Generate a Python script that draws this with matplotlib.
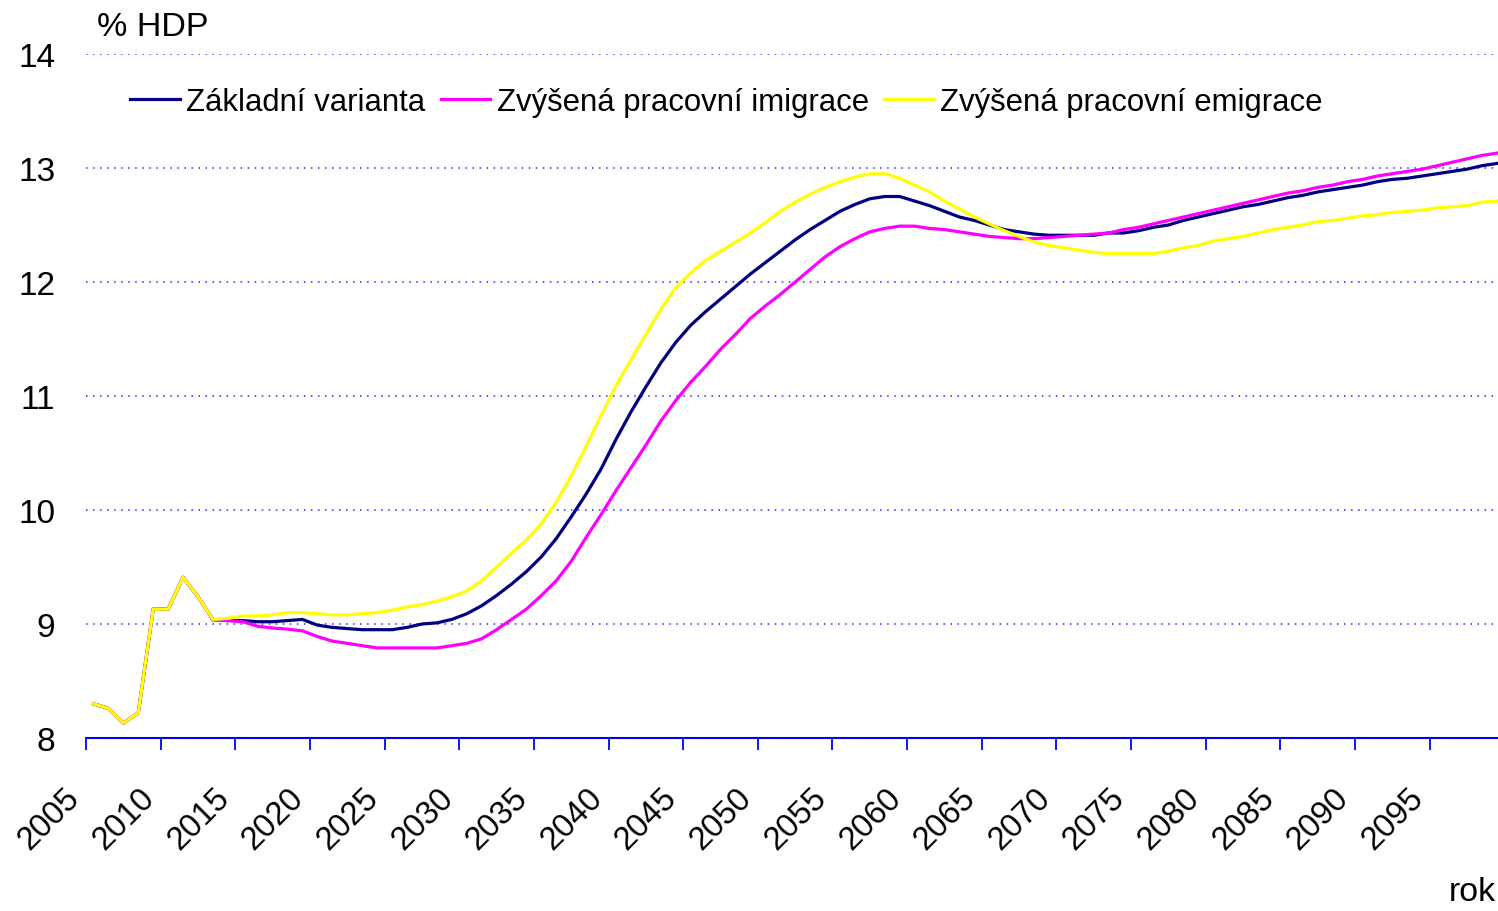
import matplotlib
matplotlib.use("Agg")
import matplotlib.pyplot as plt
import numpy as np

plt.rcParams['font.family'] = ['Liberation Sans', 'DejaVu Sans']

# roky 2005-2099
years = np.arange(2005, 2100)

# skutecnost 2005-2012 (spolecna pro vsechny varianty)
history = [8.30, 8.26, 8.13, 8.22, 9.13, 9.13, 9.41, 9.24]

# projekce 2013-2099
zakladni = [
    9.04, 9.03, 9.03, 9.02, 9.02, 9.03, 9.04, 8.99, 8.97, 8.96,   # 2013-2022
    8.95, 8.95, 8.95, 8.97, 9.00, 9.01, 9.04, 9.09, 9.16, 9.25,   # 2023-2032
    9.35, 9.46, 9.59, 9.75, 9.94, 10.14, 10.36, 10.62, 10.86, 11.08,  # 2033-2042
    11.29, 11.47, 11.62, 11.74, 11.85, 11.96, 12.07, 12.17, 12.27, 12.37,  # 2043-2052
    12.46, 12.54, 12.62, 12.68, 12.73, 12.75, 12.75, 12.71, 12.67, 12.62,  # 2053-2062
    12.57, 12.54, 12.50, 12.46, 12.44, 12.42, 12.41, 12.41, 12.41, 12.41,  # 2063-2072
    12.43, 12.43, 12.45, 12.48, 12.50, 12.54, 12.57, 12.60, 12.63, 12.66,  # 2073-2082
    12.68, 12.71, 12.74, 12.76, 12.79, 12.81, 12.83, 12.85, 12.88, 12.90,  # 2083-2092
    12.91, 12.93, 12.95, 12.97, 12.99, 13.02, 13.04,                      # 2093-2099
]
imigrace = [
    9.035, 9.03, 9.02, 8.98, 8.965, 8.955, 8.94, 8.89, 8.85, 8.83,
    8.81, 8.79, 8.79, 8.79, 8.79, 8.79, 8.81, 8.83, 8.87, 8.95,
    9.04, 9.13, 9.25, 9.38, 9.55, 9.76, 9.96, 10.17, 10.37, 10.57,
    10.78, 10.96, 11.12, 11.26, 11.41, 11.54, 11.68, 11.79, 11.89, 12.00,
    12.11, 12.22, 12.31, 12.38, 12.44, 12.47, 12.49, 12.49, 12.47, 12.46,
    12.44, 12.42, 12.40, 12.39, 12.38, 12.38, 12.39, 12.40, 12.41, 12.42,
    12.43, 12.46, 12.48, 12.51, 12.54, 12.57, 12.60, 12.63, 12.66, 12.69,
    12.72, 12.75, 12.78, 12.80, 12.83, 12.85, 12.88, 12.90, 12.93, 12.95,
    12.97, 12.99, 13.02, 13.05, 13.08, 13.11, 13.13,
]
emigrace = [
    9.04, 9.05, 9.07, 9.07, 9.08, 9.10, 9.10, 9.09, 9.08, 9.08,
    9.09, 9.10, 9.12, 9.15, 9.17, 9.20, 9.24, 9.29, 9.38, 9.50,
    9.62, 9.74, 9.88, 10.07, 10.30, 10.56, 10.83, 11.09, 11.32, 11.54,
    11.76, 11.95, 12.08, 12.19, 12.27, 12.35, 12.43, 12.52, 12.62, 12.70,
    12.77, 12.83, 12.88, 12.92, 12.95, 12.95, 12.91, 12.85, 12.79, 12.71,
    12.64, 12.57, 12.51, 12.45, 12.40, 12.35, 12.32, 12.30, 12.28, 12.26,
    12.25, 12.25, 12.25, 12.25, 12.27, 12.30, 12.32, 12.36, 12.38, 12.40,
    12.43, 12.46, 12.48, 12.50, 12.53, 12.54, 12.56, 12.58, 12.59, 12.61,
    12.62, 12.63, 12.65, 12.66, 12.67, 12.70, 12.71,
]

labels = ['Základní varianta', 'Zvýšená pracovní imigrace', 'Zvýšená pracovní emigrace']
colors = ['#000080', '#FF00FF', '#FFFF00']

fig = plt.figure(figsize=(14.98, 9.12), dpi=100)
W, H = 1498, 912
ax = fig.add_axes([86 / W, (H - 739) / H, 95 * 14.93 / W, (739 - 55) / H])

series = [history + zakladni, history + imigrace, history + emigrace]
for vals, lab, col in zip(series, labels, colors):
    ax.plot(years + 0.5, vals, color=col, lw=2.3, label=lab)

ax.set_xlim(2005, 2100)
ax.set_ylim(8, 14)

ax.set_yticks(range(8, 15))
ax.set_yticklabels([str(v) for v in range(8, 15)])
ax.tick_params(axis='y', length=0, pad=22, labelsize=24)
for v in range(9, 15):
    ax.axhline(v, color='#2828FF', lw=1.1, ls=(0, (1, 3.6)), zorder=0)

xt = list(range(2005, 2100, 5))
ax.set_xticks(xt)
ax.set_xticklabels([str(t) for t in xt], rotation=45, ha='right')
ax.tick_params(axis='x', direction='out', length=8.6, width=1.3, color='#0000FF',
               pad=23, labelsize=23.5)

for s in ['top', 'right', 'left']:
    ax.spines[s].set_visible(False)
ax.spines['bottom'].set_color('#0000FF')
ax.spines['bottom'].set_linewidth(1.5)

leg = ax.legend(loc='center left', bbox_to_anchor=((130 - 86) / (95 * 14.93), (739 - 103) / (739 - 55)),
                ncol=3, frameon=False, fontsize=22.4, handlelength=1.6, handletextpad=0.2,
                columnspacing=0.5, borderpad=0, borderaxespad=0)

fig.text(97 / W, 1 - 12 / H, '% HDP', fontsize=24.5, ha='left', va='top')
fig.text(1496 / W, 1 - 908 / H, 'rok', fontsize=24.5, ha='right', va='bottom')

fig.savefig('out.png', dpi=100)
